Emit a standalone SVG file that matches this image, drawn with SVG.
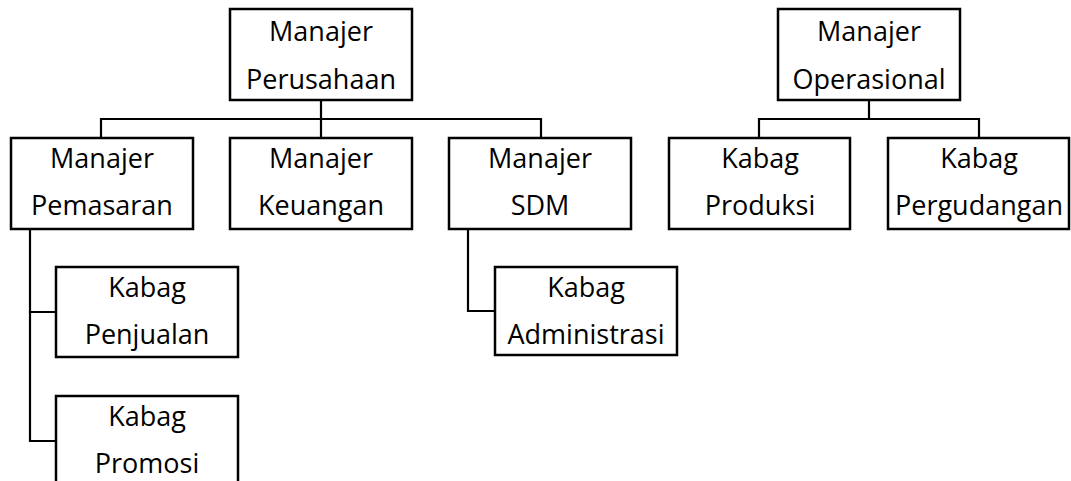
<svg xmlns="http://www.w3.org/2000/svg" width="1071" height="481" viewBox="0 0 1071 481">
<style>
.box{fill:#fff;stroke:#000;stroke-width:2.5}
.ln{fill:none;stroke:#000;stroke-width:2.2}
text{font-family:"Open Sans","Noto Sans","DejaVu Sans",sans-serif;font-size:27px;fill:#000;text-anchor:middle}
</style>
<rect width="1071" height="481" fill="#fff"/>
<g id="connectors">
<path class="ln" d="M321 100V138M101 138V119H541V138"/>
<path class="ln" d="M869 100V119M759 138V119H979V138"/>
<path class="ln" d="M30 229V441H56M30 312H56"/>
<path class="ln" d="M468 229V311H495"/>
</g>
<g id="perusahaan"><rect class="box" x="230" y="9" width="182" height="91"/><text x="321" y="41">Manajer</text><text x="321" y="89">Perusahaan</text></g>
<g id="operasional"><rect class="box" x="778" y="9" width="182" height="91"/><text x="869" y="41">Manajer</text><text x="869" y="89">Operasional</text></g>
<g id="pemasaran"><rect class="box" x="11" y="138" width="182" height="91"/><text x="102" y="168">Manajer</text><text x="102" y="215">Pemasaran</text></g>
<g id="keuangan"><rect class="box" x="230" y="138" width="182" height="91"/><text x="321" y="168">Manajer</text><text x="321" y="215">Keuangan</text></g>
<g id="sdm"><rect class="box" x="449" y="138" width="182" height="91"/><text x="540" y="168">Manajer</text><text x="540" y="215">SDM</text></g>
<g id="produksi"><rect class="box" x="669" y="138" width="181" height="91"/><text x="760" y="168">Kabag</text><text x="760" y="215">Produksi</text></g>
<g id="pergudangan"><rect class="box" x="888" y="138" width="181" height="91"/><text x="979" y="168">Kabag</text><text x="979" y="215">Pergudangan</text></g>
<g id="penjualan"><rect class="box" x="56" y="267" width="182" height="90"/><text x="147" y="297">Kabag</text><text x="147" y="344">Penjualan</text></g>
<g id="administrasi"><rect class="box" x="495" y="267" width="182" height="88"/><text x="586" y="297">Kabag</text><text x="586" y="344">Administrasi</text></g>
<g id="promosi"><rect class="box" x="56" y="396" width="182" height="95"/><text x="147" y="426">Kabag</text><text x="147" y="473">Promosi</text></g>
</svg>
